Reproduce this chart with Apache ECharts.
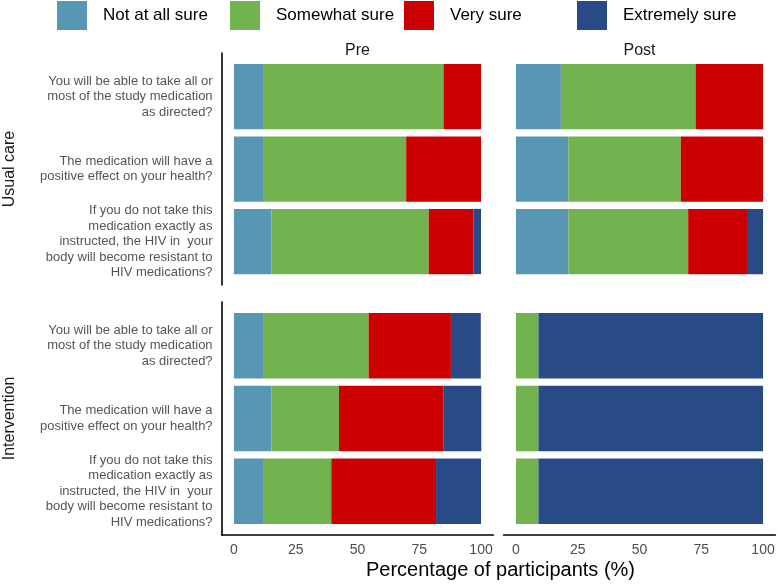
<!DOCTYPE html>
<html>
<head>
<meta charset="utf-8">
<script src="https://cdn.jsdelivr.net/npm/echarts@6/dist/echarts.min.js"></script>
<style>
  html, body { margin: 0; padding: 0; background: #fff; }
  #chart { width: 778px; height: 585px; }
</style>
</head>
<body>
<div id="chart"></div>
<script>
// ---------- data ----------
const questions = [
  'You will be able to take all or\nmost of the study medication\nas directed?',
  'The medication will have a\npositive effect on your health?',
  'If you do not take this\nmedication exactly as\ninstructed, the HIV in  your\nbody will become resistant to\nHIV medications?'
];
const levels = ['Not at all sure', 'Somewhat sure', 'Very sure', 'Extremely sure'];
const levelColors = ['#5797b3', '#73b34f', '#cc0000', '#284a87'];
const columnLabels = ['Pre', 'Post'];
const rowLabels = ['Usual care', 'Intervention'];
const xTicks = [0, 25, 50, 75, 100];

// percentages per level (Not at all, Somewhat, Very, Extremely), one value per question
const usualCarePre = [
  [12.1, 12.1, 15.2],
  [72.7, 57.6, 63.6],
  [15.2, 30.3, 18.2],
  [0, 0, 3.0]
];
const usualCarePost = [
  [18.2, 21.2, 21.2],
  [54.5, 45.5, 48.5],
  [27.3, 33.3, 24.2],
  [0, 0, 6.1]
];
const interventionPre = [
  [12.1, 15.2, 12.1],
  [42.4, 27.3, 27.3],
  [33.3, 42.4, 42.4],
  [12.1, 15.2, 18.2]
];
const interventionPost = [
  [0, 0, 0],
  [9.1, 9.1, 9.1],
  [0, 0, 0],
  [90.9, 90.9, 90.9]
];

// ---------- layout ----------
const FONT = "'Liberation Sans', Arial, Helvetica, sans-serif";
const colLeft = [221.6, 503.6];
const colWidth = 271.8;
const rowPanel = [[53, 285], [302, 535]]; // panel top/bottom (ggplot expanded)
const panels = [
  { data: usualCarePre, row: 0, col: 0 },
  { data: usualCarePost, row: 0, col: 1 },
  { data: interventionPre, row: 1, col: 0 },
  { data: interventionPost, row: 1, col: 1 }
];

const grid = [], xAxis = [], yAxis = [], series = [];

panels.forEach((p, i) => {
  const [pt, pb] = rowPanel[p.row];
  const unit = (pb - pt) / 3.2;
  grid.push({ left: colLeft[p.col], width: colWidth, top: pt + unit * 0.1, height: unit * 3, containLabel: false });
  const isBottom = p.row === 1;
  xAxis.push({
    type: 'value', gridIndex: i, min: -5, max: 105,
    show: isBottom,
    offset: unit * 0.1,
    axisLine: { show: true, lineStyle: { color: '#000', width: 1.6 } },
    axisTick: { show: false },
    splitLine: { show: false },
    axisLabel: { customValues: xTicks, color: '#4d4d4d', fontSize: 14, fontFamily: FONT, margin: 8 }
  });
  yAxis.push({
    type: 'category', gridIndex: i, data: questions, inverse: true,
    show: p.col === 0,
    axisLine: { show: false }, axisTick: { show: false },
    axisLabel: { color: '#555555', fontSize: 13, lineHeight: 15.5, fontFamily: FONT, margin: 9, align: 'right' }
  });
  levels.forEach((name, k) => {
    series.push({
      type: 'bar', name, stack: 'panel' + i, xAxisIndex: i, yAxisIndex: i,
      data: p.data[k], barCategoryGap: '10%',
      itemStyle: { color: levelColors[k] },
      emphasis: { disabled: true }, silent: true
    });
  });
});

// full-height left axis lines for the Pre column
rowPanel.forEach(([pt, pb], r) => {
  const gi = grid.length;
  grid.push({ left: colLeft[0], width: colWidth, top: pt, height: pb - pt });
  xAxis.push({ type: 'value', gridIndex: gi, show: false, min: 0, max: 1 });
  yAxis.push({
    type: 'value', gridIndex: gi, min: 0, max: 1,
    axisLine: { show: true, lineStyle: { color: '#000', width: 1.6 } },
    axisTick: { show: false }, axisLabel: { show: false }, splitLine: { show: false }
  });
});

const legendLeft = [57, 230, 404, 577];
const legend = levels.map((n, i) => ({
  data: [n], left: legendLeft[i], top: 1, orient: 'horizontal', padding: 0,
  itemWidth: 30, itemHeight: 29, icon: 'rect', selectedMode: false,
  textStyle: { fontSize: 17, color: '#000', fontFamily: FONT, padding: [0, 0, 0, 11] }
}));

const graphic = [];
columnLabels.forEach((t, c) => {
  graphic.push({ type: 'text', x: colLeft[c] + colWidth / 2, y: 51,
    style: { text: t, fill: '#1a1a1a', font: '16px ' + FONT, align: 'center', verticalAlign: 'middle' } });
});
rowLabels.forEach((t, r) => {
  graphic.push({ type: 'text', x: 10, y: (rowPanel[r][0] + rowPanel[r][1]) / 2, rotation: Math.PI / 2,
    style: { text: t, fill: '#1a1a1a', font: '16px ' + FONT, align: 'center', verticalAlign: 'middle' } });
});
graphic.push({ type: 'text', x: (colLeft[0] + colLeft[1] + colWidth) / 2 + 2, y: 570,
  style: { text: 'Percentage of participants (%)', fill: '#000', font: '20px ' + FONT, align: 'center', verticalAlign: 'middle' } });

const chart = echarts.init(document.getElementById('chart'), null, { renderer: 'canvas' });
chart.setOption({
  animation: false,
  backgroundColor: '#fff',
  legend, grid, xAxis, yAxis, series, graphic
});
</script>
</body>
</html>
